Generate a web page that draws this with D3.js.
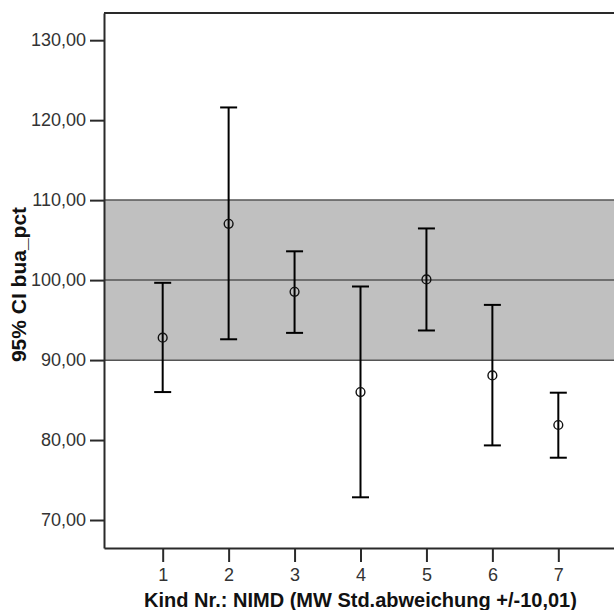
<!DOCTYPE html>
<html>
<head>
<meta charset="utf-8">
<script src="https://cdn.jsdelivr.net/npm/d3@7"></script>
<style>
  html, body { margin: 0; padding: 0; background: #fff; overflow: hidden; }
  svg { display: block; }
</style>
</head>
<body>
<svg id="chart" width="614" height="610"></svg>
<script>
// Kind Nr. (child number) on the x axis
const kinder = [1, 2, 3, 4, 5, 6, 7];
// Mean of bua_pct per child
const means = [92.8, 107.04, 98.54, 86.0, 100.08, 88.08, 81.88];
// 95% confidence interval bounds
const lower = [86.0, 92.6, 93.4, 72.84, 93.7, 79.33, 77.79];
const upper = [99.66, 121.59, 103.6, 99.2, 106.46, 96.9, 85.92];
// Reference band: mean +/- standard deviation
const refMean = 100;
const refSD = 10.01;
// Y axis tick values
const yTicks = [70, 80, 90, 100, 110, 120, 130];

const svg = d3.select("#chart");
const plotLeft = 104, plotRight = 617, plotTop = 13, plotBottom = 548;

const x = d3.scaleLinear().domain([0.11, 7.89]).range([plotLeft, plotRight]);
const y = d3.scaleLinear().domain([66.5, 133.4]).range([plotBottom, plotTop]);

const de = d3.formatLocale({ decimal: ",", thousands: ".", grouping: [3], currency: ["", " €"] });
const fmt = de.format(".2f");

// reference band
svg.append("rect")
  .attr("x", plotLeft).attr("width", plotRight - plotLeft)
  .attr("y", y(refMean + refSD)).attr("height", y(refMean - refSD) - y(refMean + refSD))
  .attr("fill", "#c0c0c0");

svg.selectAll("line.ref")
  .data([refMean - refSD, refMean, refMean + refSD])
  .join("line")
  .attr("class", "ref")
  .attr("x1", plotLeft).attr("x2", plotRight)
  .attr("y1", d => y(d)).attr("y2", d => y(d))
  .attr("stroke", "#555").attr("stroke-width", 1.5);

// frame (top and right)
svg.append("path")
  .attr("d", `M${plotLeft},${plotTop}H${plotRight}V${plotBottom}`)
  .attr("fill", "none").attr("stroke", "#2a2a2a").attr("stroke-width", 2);

// axes
const yAxis = svg.append("g")
  .attr("transform", `translate(${plotLeft},0)`)
  .call(d3.axisLeft(y).tickValues(yTicks).tickFormat(fmt).tickSize(14).tickSizeOuter(0).tickPadding(4));

const xAxis = svg.append("g")
  .attr("transform", `translate(0,${plotBottom})`)
  .call(d3.axisBottom(x).tickValues(kinder).tickFormat(d3.format("d")).tickSize(14).tickSizeOuter(0).tickPadding(6));

[yAxis, xAxis].forEach(g => {
  g.select(".domain").attr("stroke", "#2a2a2a").attr("stroke-width", 2);
  g.selectAll(".tick line").attr("stroke", "#2a2a2a").attr("stroke-width", 2);
  g.selectAll(".tick text")
    .attr("fill", "#333")
    .style("font-family", "'Liberation Sans', Arial, sans-serif")
    .style("font-size", "18px");
});

// error bars
const bars = svg.append("g").selectAll("g")
  .data(kinder.map((k, i) => ({ k, m: means[i], lo: lower[i], hi: upper[i] })))
  .join("g");

bars.append("line")
  .attr("x1", d => x(d.k)).attr("x2", d => x(d.k))
  .attr("y1", d => y(d.lo)).attr("y2", d => y(d.hi))
  .attr("stroke", "#000").attr("stroke-width", 2);

bars.selectAll("line.cap")
  .data(d => [{ k: d.k, v: d.lo }, { k: d.k, v: d.hi }])
  .join("line")
  .attr("class", "cap")
  .attr("x1", d => x(d.k) - 8.5).attr("x2", d => x(d.k) + 8.5)
  .attr("y1", d => y(d.v)).attr("y2", d => y(d.v))
  .attr("stroke", "#000").attr("stroke-width", 2);

bars.append("circle")
  .attr("cx", d => x(d.k)).attr("cy", d => y(d.m))
  .attr("r", 4.4)
  .attr("fill", "none").attr("stroke", "#111").attr("stroke-width", 1.4);

// axis titles
svg.append("text")
  .attr("x", (plotLeft + plotRight) / 2).attr("y", 607)
  .attr("text-anchor", "middle")
  .style("font-family", "'Liberation Sans', Arial, sans-serif")
  .style("font-weight", "bold").style("font-size", "20px")
  .attr("fill", "#111")
  .text("Kind Nr.: NIMD (MW Std.abweichung +/-10,01)");

svg.append("text")
  .attr("transform", `translate(26,${(plotTop + plotBottom) / 2 + 4}) rotate(-90)`)
  .attr("text-anchor", "middle")
  .style("font-family", "'Liberation Sans', Arial, sans-serif")
  .style("font-weight", "bold").style("font-size", "21px")
  .attr("fill", "#111")
  .text("95% CI bua_pct");
</script>
</body>
</html>
